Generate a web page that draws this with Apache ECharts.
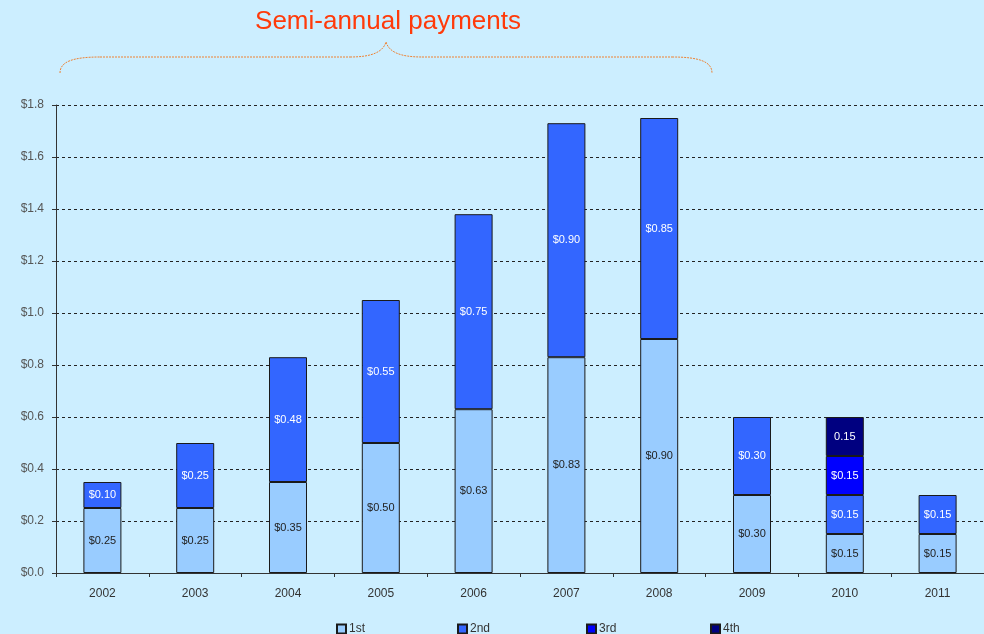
<!DOCTYPE html>
<html>
<head>
<meta charset="utf-8">
<style>
  html, body { margin: 0; padding: 0; background: #cceeff; }
  #main { width: 984px; height: 634px; }
</style>
<script src="https://cdn.jsdelivr.net/npm/echarts@6/dist/echarts.min.js"></script>
</head>
<body>
<div id="main"></div>
<script>
// Years on the x axis
const years = ['2002', '2003', '2004', '2005', '2006', '2007', '2008', '2009', '2010', '2011'];
// Dividend payments per year, by payment number
const first  = [0.25, 0.25, 0.35, 0.50, 0.63, 0.83, 0.90, 0.30, 0.15, 0.15];
const second = [0.10, 0.25, 0.48, 0.55, 0.75, 0.90, 0.85, 0.30, 0.15, 0.15];
const third  = [null, null, null, null, null, null, null, null, 0.15, null];
const fourth = [null, null, null, null, null, null, null, null, 0.15, null];
const names = ['1st', '2nd', '3rd', '4th'];

const font = 'Liberation Sans, Arial, sans-serif';

function makeSeries(name, data, color, labelColor, prefix) {
    return {
        name: name,
        type: 'bar',
        stack: 'pay',
        barWidth: 38,
        data: data,
        itemStyle: { color: color, borderColor: '#1a1a1a', borderWidth: 1 },
        label: {
            show: true,
            position: 'inside',
            color: labelColor,
            fontFamily: font,
            fontSize: 11,
            formatter: p => prefix + p.value.toFixed(2)
        }
    };
}

// dotted curly brace under the title
const braceStyle = { fill: null, stroke: '#ee8233', lineWidth: 1, lineDash: [2, 1] };
function curve(x1, y1, cx1, cy1, cx2, cy2, x2, y2) {
    return { type: 'bezierCurve', silent: true,
        shape: { x1: x1, y1: y1, cpx1: cx1, cpy1: cy1, cpx2: cx2, cpy2: cy2, x2: x2, y2: y2 },
        style: braceStyle };
}
function straight(x1, y1, x2, y2) {
    return { type: 'line', silent: true, shape: { x1: x1, y1: y1, x2: x2, y2: y2 }, style: braceStyle };
}

// one legend per item so the spacing matches the original
const legendLeft = [336, 457, 586, 710];
const legends = names.map((n, i) => ({
    left: legendLeft[i],
    top: 623,
    itemWidth: 9,
    itemHeight: 9,
    icon: 'rect',
    padding: 0,
    textStyle: { color: '#333', fontFamily: font, fontSize: 12, padding: [0, 0, 0, -2] },
    data: [n]
}));

let myChart = echarts.init(document.getElementById('main'));
let option = {
    backgroundColor: '#cceeff',
    animation: false,
    title: {
        text: 'Semi-annual payments',
        left: 383,
        top: 4,
        textAlign: 'center',
        textStyle: { color: '#ff3a0a', fontFamily: font, fontWeight: 'normal', fontSize: 26 }
    },
    graphic: [
        curve(60, 73, 60, 62, 72, 57, 100, 57),
        straight(100, 57, 350, 57),
        curve(350, 57, 372, 57, 383, 52, 386, 42),
        curve(386, 42, 389, 52, 400, 57, 422, 57),
        straight(422, 57, 672, 57),
        curve(672, 57, 700, 57, 712, 62, 712, 73)
    ],
    legend: legends,
    grid: { left: 56, right: 0, top: 105, bottom: 61 },
    xAxis: {
        type: 'category',
        data: years,
        axisLine: { lineStyle: { color: '#333' } },
        axisTick: { show: true, length: 4, lineStyle: { color: '#333' } },
        axisLabel: { color: '#333', fontFamily: font, fontSize: 12, margin: 15 }
    },
    yAxis: {
        type: 'value',
        min: 0,
        max: 1.8,
        interval: 0.2,
        axisLine: { show: true, lineStyle: { color: '#333' } },
        axisTick: { show: true, length: 4, lineStyle: { color: '#333' } },
        axisLabel: { color: '#555', fontFamily: font, fontSize: 12, margin: 12, formatter: v => '$' + v.toFixed(1) },
        splitLine: { lineStyle: { color: '#222', type: [3, 3] } }
    },
    series: [
        makeSeries(names[0], first, '#99ccff', '#222', '$'),
        makeSeries(names[1], second, '#3366ff', '#fff', '$'),
        makeSeries(names[2], third, '#0000ff', '#fff', '$'),
        makeSeries(names[3], fourth, '#000080', '#fff', '')
    ]
};
myChart.setOption(option);
</script>
</body>
</html>
